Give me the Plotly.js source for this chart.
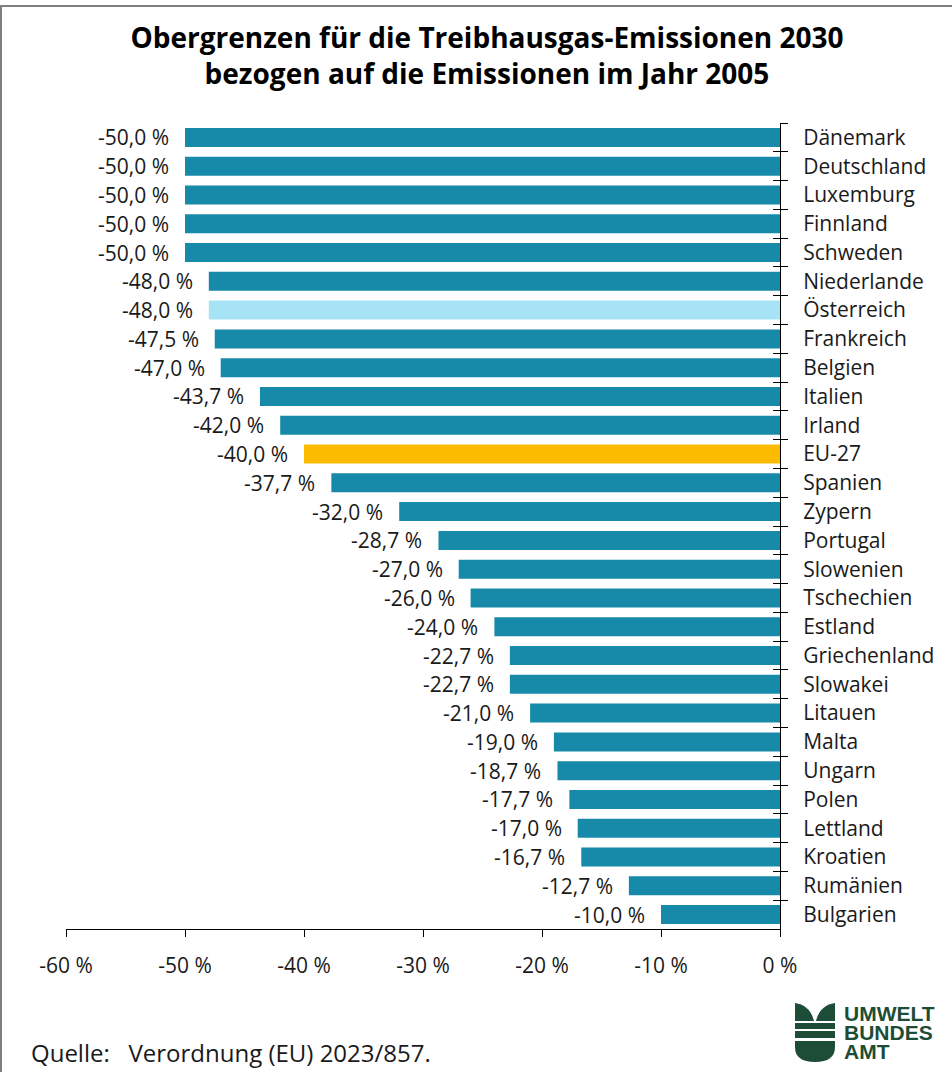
<!DOCTYPE html>
<html>
<head>
<meta charset="utf-8">
<script src="https://cdn.plot.ly/plotly-3.0.1.min.js"></script>
<style>
  body { margin: 0; background: #fff; }
  #frame { position: absolute; left: 0; top: 5px; width: 950px; height: 1065px;
           border-top: 2px solid #808080; border-left: 2px solid #808080; }
  #chart { position: absolute; left: 0; top: 0; width: 952px; height: 1072px; }
</style>
</head>
<body>
<div id="frame"></div>
<div id="chart"></div>
<script>
// Emissions caps 2030 vs 2005, per member state
const countries = ['Dänemark', 'Deutschland', 'Luxemburg', 'Finnland', 'Schweden', 'Niederlande',
  'Österreich', 'Frankreich', 'Belgien', 'Italien', 'Irland', 'EU-27', 'Spanien', 'Zypern',
  'Portugal', 'Slowenien', 'Tschechien', 'Estland', 'Griechenland', 'Slowakei', 'Litauen',
  'Malta', 'Ungarn', 'Polen', 'Lettland', 'Kroatien', 'Rumänien', 'Bulgarien'];
const values = [-50.0, -50.0, -50.0, -50.0, -50.0, -48.0, -48.0, -47.5, -47.0, -43.7, -42.0, -40.0,
  -37.7, -32.0, -28.7, -27.0, -26.0, -24.0, -22.7, -22.7, -21.0, -19.0, -18.7, -17.7, -17.0,
  -16.7, -12.7, -10.0];
const xTicks = [-60, -50, -40, -30, -20, -10, 0];
const logoWords = ['UMWELT', 'BUNDES', 'AMT'];

const teal = '#168aa8';
const barColors = countries.map(c => c === 'Österreich' ? '#a6e3f5' : (c === 'EU-27' ? '#fdbb00' : teal));
const fmt = v => v.toFixed(1).replace('.', ',') + ' %';

// plot area in pixels, used to place the logo and footer
const L = 66, R = 780, T = 123, B = 929;
const px = x => (x - L) / (R - L);
const py = y => (B - y) / (B - T);
const P = (x, y) => px(x).toFixed(4) + ',' + py(y).toFixed(4);

const bars = {
  type: 'bar', orientation: 'h',
  x: values, y: countries,
  marker: { color: barColors },
  hoverinfo: 'skip'
};
// carrier for the inner half of the crossing category ticks
const ghost = {
  type: 'scatter', mode: 'markers', x: values.map(() => 0), y: countries,
  yaxis: 'y2', marker: { opacity: 0 }, hoverinfo: 'skip', showlegend: false
};

const valueLabels = countries.map((c, i) => ({
  x: values[i], y: c, xref: 'x', yref: 'y', text: fmt(values[i]),
  showarrow: false, xanchor: 'right', xshift: -14,
  font: { size: 21, color: '#1a1a1a' }
}));

const green = '#1d4d37';
const logo = [
  { type: 'path', path: 'M' + P(795, 1003) + ' L' + P(795, 1021) + ' L' + P(814, 1021) + ' Q' + P(810, 1005) + ' ' + P(795, 1003) + ' Z' },
  { type: 'path', path: 'M' + P(835, 1003) + ' L' + P(835, 1021) + ' L' + P(816, 1021) + ' Q' + P(820, 1005) + ' ' + P(835, 1003) + ' Z' },
  { type: 'rect', x0: px(795), x1: px(835), y0: py(1023), y1: py(1029) },
  { type: 'rect', x0: px(795), x1: px(835), y0: py(1031), y1: py(1038) },
  { type: 'path', path: 'M' + P(795, 1041) + ' L' + P(835, 1041) + ' L' + P(835, 1047) + ' Q' + P(835, 1062) + ' ' + P(815, 1062) + ' Q' + P(795, 1062) + ' ' + P(795, 1047) + ' Z' }
].map(s => Object.assign({ xref: 'paper', yref: 'paper', fillcolor: green, line: { width: 0 } }, s));

const logoText = logoWords.map((w, i) => ({
  xref: 'paper', yref: 'paper', x: px(842), y: py(1013 + 19 * i), xanchor: 'left', yanchor: 'middle',
  text: '<b>' + w + '</b>', showarrow: false,
  font: { family: 'Liberation Sans Narrow, Arial Narrow, sans-serif', size: 21, color: green }
}));

const layout = {
  width: 952, height: 1072,
  margin: { l: L, r: 952 - R, t: T, b: 1072 - B },
  paper_bgcolor: 'rgba(0,0,0,0)', plot_bgcolor: 'rgba(0,0,0,0)',
  font: { family: 'Open Sans, sans-serif', size: 20, color: '#1a1a1a' },
  showlegend: false,
  bargap: 0.34,
  title: {
    text: '<b>Obergrenzen für die Treibhausgas-Emissionen 2030<br>bezogen auf die Emissionen im Jahr 2005</b>',
    xref: 'container', x: 487 / 952, xanchor: 'center',
    yref: 'container', y: 1 - 48 / 1072, yanchor: 'top',
    font: { size: 28, color: '#000' }
  },
  xaxis: {
    range: [-60, 0], tickvals: xTicks, ticktext: xTicks.map(v => v + ' %'),
    showline: true, linecolor: '#000', linewidth: 1,
    ticks: 'outside', ticklen: 7, tickcolor: '#000',
    showgrid: false, zeroline: false, fixedrange: true,
    ticklabelstandoff: 11, tickfont: { size: 21 }
  },
  yaxis: {
    type: 'category', categoryarray: countries, range: [27.5, -0.5],
    side: 'right', showline: true, linecolor: '#000', linewidth: 1,
    ticks: 'outside', ticklen: 7, tickcolor: '#000', tickson: 'boundaries',
    showgrid: false, zeroline: false, fixedrange: true,
    ticklabelstandoff: 18, tickfont: { size: 21 }
  },
  yaxis2: {
    type: 'category', categoryarray: countries, range: [27.5, -0.5],
    overlaying: 'y', side: 'right', showline: false,
    ticks: 'inside', ticklen: 7, tickcolor: '#000', tickson: 'boundaries',
    showticklabels: false, showgrid: false, zeroline: false, fixedrange: true
  },
  shapes: logo,
  annotations: valueLabels.concat(logoText, [
    { xref: 'paper', yref: 'paper', x: px(29), y: py(1052), xanchor: 'left', yanchor: 'middle',
      text: 'Quelle:\u00a0\u00a0\u00a0Verordnung (EU) 2023/857.', showarrow: false,
      font: { size: 24, color: '#1a1a1a' } }
  ])
};

Plotly.newPlot('chart', [bars, ghost], layout, { displayModeBar: false, staticPlot: true });
</script>
</body>
</html>
